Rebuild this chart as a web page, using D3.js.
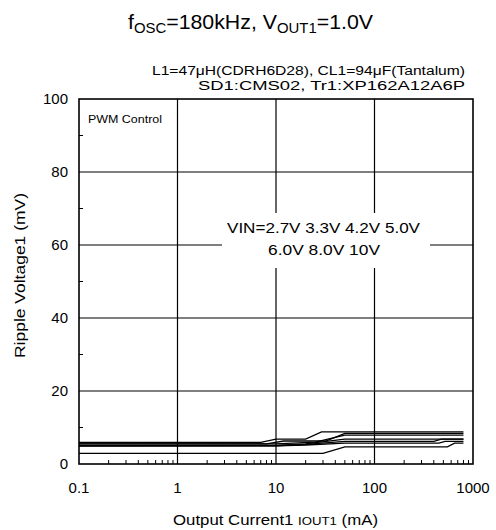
<!DOCTYPE html>
<html>
<head>
<meta charset="utf-8">
<title>Ripple Voltage</title>
<style>
  body { margin: 0; background: #fff; }
  svg text { font-family: "Liberation Sans", Arial, sans-serif; fill: #000; }
</style>
</head>
<body>
<svg width="496" height="530"></svg>
<script src="https://d3js.org/d3.v7.min.js"></script>
<script>

// x ticks (mA) and y ticks (mV)
var xTicks = [0.1, 1, 10, 100, 1000];
var xTickLabels = ["0.1", "1", "10", "100", "1000"];
var yTicks = [0, 20, 40, 60, 80, 100];

// ripple curves, [Iout mA, ripple mV]
var vin27 = [[0.1, 2.9], [30, 2.9], [50, 4.7], [550, 4.7], [650, 5.7], [800, 5.7]];
var vin33 = [[0.1, 5.0], [10, 5.0], [20, 5.2], [50, 5.7], [450, 5.7], [520, 6.2], [800, 6.2]];
var vin42 = [[0.1, 5.0], [10, 5.0], [20, 5.4], [50, 6.2], [400, 6.2], [480, 6.8], [800, 6.8]];
var vin50 = [[0.1, 5.0], [10, 5.1], [20, 5.5], [50, 6.8], [800, 6.8]];
var vin60 = [[0.1, 5.5], [10, 5.5], [25, 6.0], [50, 7.9], [800, 7.9]];
var vin80 = [[0.1, 5.5], [8, 5.5], [12, 6.3], [32, 6.3], [50, 8.4], [800, 8.4]];
var vin10 = [[0.1, 5.9], [7, 5.9], [10, 6.8], [20, 6.8], [29, 8.8], [800, 8.8]];
var series = [vin27, vin33, vin42, vin50, vin60, vin80, vin10];

draw();

function draw() {
var svg = d3.select("svg");
var pl = 79, pr = 473, pt = 99, pb = 464;

var x = d3.scaleLog().domain([0.1, 1000]).range([pl, pr]);
var y = d3.scaleLinear().domain([0, 100]).range([pb, pt]);

// title
var title = svg.append("text")
  .attr("x", 128).attr("y", 29)
  .attr("textLength", 245).attr("lengthAdjust", "spacingAndGlyphs")
  .style("font-size", "20px");
title.append("tspan").text("f");
title.append("tspan").attr("dy", 4).style("font-size", "14px").text("OSC");
title.append("tspan").attr("dy", -4).text("=180kHz, V");
title.append("tspan").attr("dy", 4).style("font-size", "14px").text("OUT1");
title.append("tspan").attr("dy", -4).text("=1.0V");

svg.append("text")
  .attr("x", 152).attr("y", 75)
  .attr("textLength", 313).attr("lengthAdjust", "spacingAndGlyphs")
  .style("font-size", "12.5px")
  .text("L1=47\u03bcH(CDRH6D28), CL1=94\u03bcF(Tantalum)");
svg.append("text")
  .attr("x", 198).attr("y", 90)
  .attr("textLength", 267).attr("lengthAdjust", "spacingAndGlyphs")
  .style("font-size", "12.5px")
  .text("SD1:CMS02, Tr1:XP162A12A6P");

// grid
svg.append("g").selectAll("line")
  .data([1, 10, 100])
  .enter().append("line")
  .attr("x1", d => x(d)).attr("x2", d => x(d))
  .attr("y1", pt).attr("y2", pb)
  .style("stroke", "#000").style("stroke-width", 1.2);
svg.append("g").selectAll("line")
  .data([20, 40, 60, 80])
  .enter().append("line")
  .attr("x1", pl).attr("x2", pr)
  .attr("y1", d => y(d)).attr("y2", d => y(d))
  .style("stroke", "#000").style("stroke-width", 1.2);

// minor ticks, inward
var minorX = [];
for (var e = -1; e < 3; e++) {
  for (var k = 2; k <= 9; k++) minorX.push(k * Math.pow(10, e));
}
svg.append("g").selectAll("line")
  .data(minorX)
  .enter().append("line")
  .attr("x1", d => x(d)).attr("x2", d => x(d))
  .attr("y1", pb).attr("y2", pb - 4)
  .style("stroke", "#000").style("stroke-width", 1);
svg.append("g").selectAll("line")
  .data([10, 30, 50, 70, 90])
  .enter().append("line")
  .attr("x1", pl).attr("x2", pl + 4)
  .attr("y1", d => y(d)).attr("y2", d => y(d))
  .style("stroke", "#000").style("stroke-width", 1);

// curves
var line = d3.line().x(d => x(d[0])).y(d => y(d[1]));
svg.append("g").selectAll("path")
  .data(series)
  .enter().append("path")
  .attr("d", line)
  .style("fill", "none")
  .style("stroke", "#000")
  .style("stroke-width", 1.3);

// frame
svg.append("rect")
  .attr("x", pl).attr("y", pt)
  .attr("width", pr - pl).attr("height", pb - pt)
  .style("fill", "none").style("stroke", "#000").style("stroke-width", 1.6);

// labels inside plot
svg.append("text")
  .attr("x", 88).attr("y", 123)
  .attr("textLength", 74).attr("lengthAdjust", "spacingAndGlyphs")
  .style("font-size", "11px")
  .text("PWM  Control");

svg.append("rect")
  .attr("x", 222).attr("y", 213)
  .attr("width", 208).attr("height", 55)
  .style("fill", "#fff");
svg.append("text")
  .attr("x", 227).attr("y", 233)
  .attr("textLength", 193).attr("lengthAdjust", "spacingAndGlyphs")
  .style("font-size", "15.5px")
  .text("VIN=2.7V 3.3V 4.2V 5.0V");
svg.append("text")
  .attr("x", 268).attr("y", 255)
  .attr("textLength", 112).attr("lengthAdjust", "spacingAndGlyphs")
  .style("font-size", "15.5px")
  .text("6.0V 8.0V 10V");

// tick labels
svg.append("g").selectAll("text")
  .data(yTicks)
  .enter().append("text")
  .attr("x", 68).attr("y", d => y(d) + 5)
  .attr("text-anchor", "end")
  .style("font-size", "15px")
  .text(d => d);
svg.append("g").selectAll("text")
  .data(xTicks)
  .enter().append("text")
  .attr("x", d => x(d)).attr("y", 493)
  .attr("text-anchor", "middle")
  .style("font-size", "15px")
  .text((d, i) => xTickLabels[i]);

// axis titles
var xt = svg.append("text")
  .attr("x", 173).attr("y", 525)
  .attr("textLength", 205).attr("lengthAdjust", "spacingAndGlyphs")
  .style("font-size", "14px");
xt.append("tspan").text("Output Current1  ");
xt.append("tspan").style("font-size", "11px").text("IOUT1");
xt.append("tspan").text(" (mA)");

svg.append("text")
  .attr("transform", "translate(25,358) rotate(-90)")
  .attr("textLength", 165).attr("lengthAdjust", "spacingAndGlyphs")
  .style("font-size", "14px")
  .text("Ripple Voltage1 (mV)");
}

</script>
</body>
</html>
